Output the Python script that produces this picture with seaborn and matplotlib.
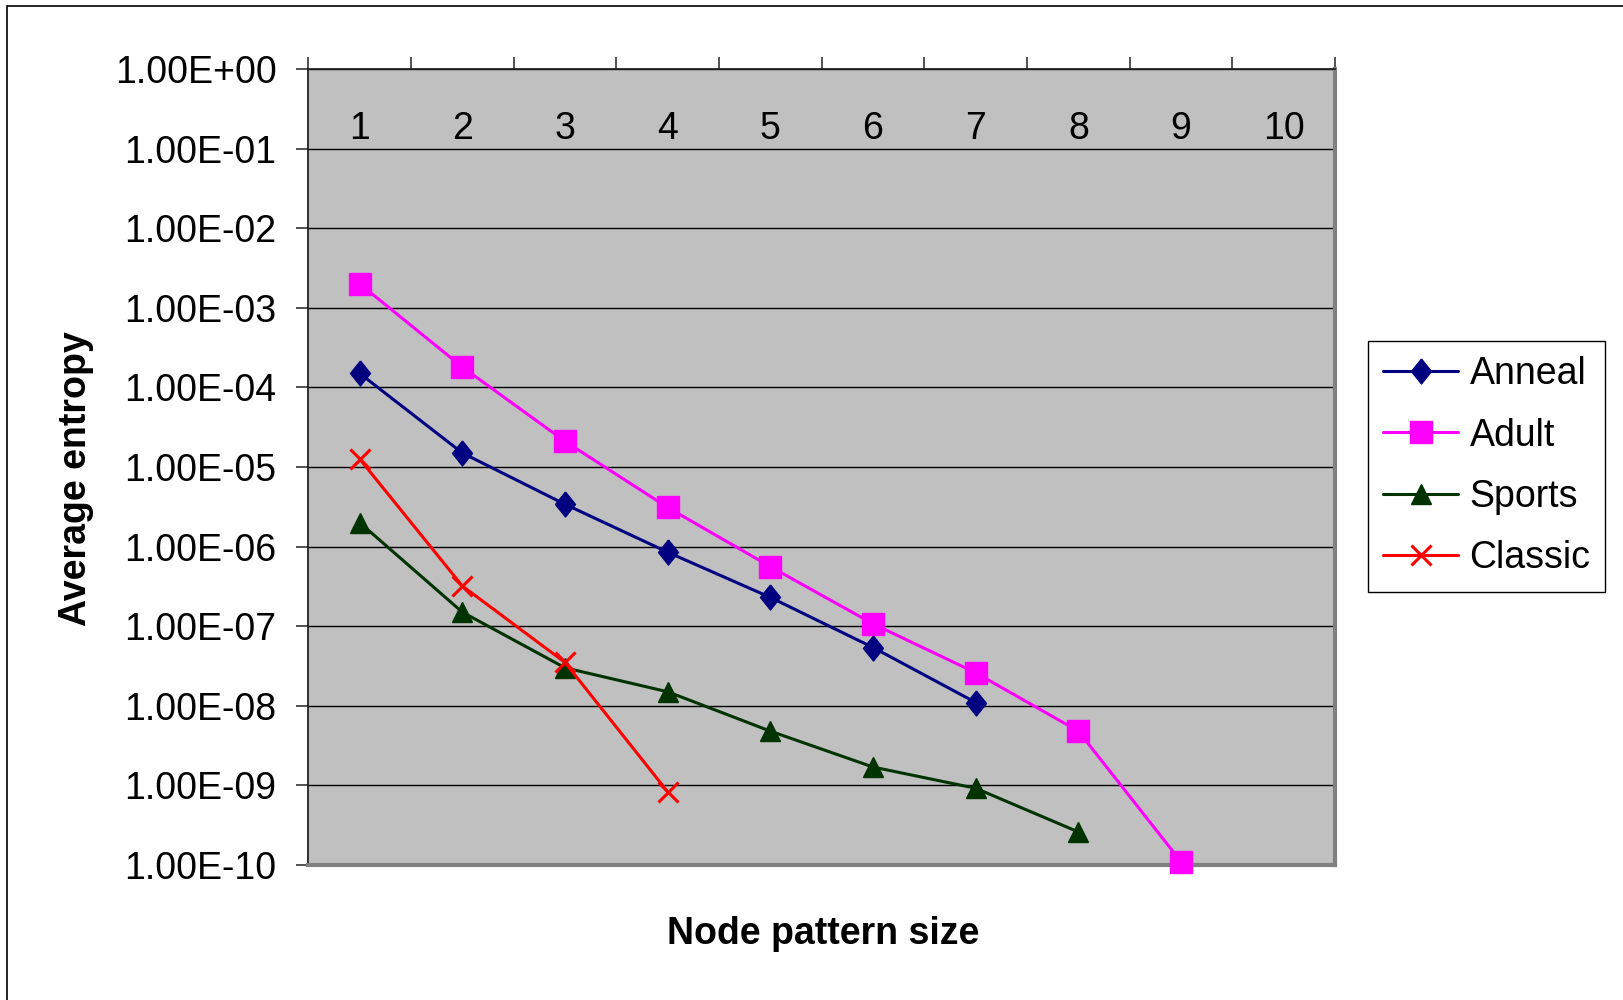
import matplotlib
matplotlib.use("Agg")
import matplotlib.pyplot as plt
import matplotlib.ticker as mticker
from matplotlib.patches import Rectangle
import pandas as pd
import seaborn as sns

# Data (log scale values)
sizes = [1, 2, 3, 4, 5, 6, 7, 8, 9, 10]
size_labels = ["1", "2", "3", "4", "5", "6", "7", "8", "9", "10"]

anneal = [1.5e-4, 1.5e-5, 3.4e-6, 8.5e-7, 2.3e-7, 5.4e-8, 1.1e-8]
adult = [2.0e-3, 1.8e-4, 2.1e-5, 3.1e-6, 5.6e-7, 1.07e-7, 2.6e-8, 4.8e-9, 1.1e-10]
sports = [2.0e-6, 1.5e-7, 3.0e-8, 1.5e-8, 4.8e-9, 1.7e-9, 9.2e-10, 2.6e-10]
classic = [1.26e-5, 3.2e-7, 3.5e-8, 8.3e-10]

ytick_vals = [1e0, 1e-1, 1e-2, 1e-3, 1e-4, 1e-5, 1e-6, 1e-7, 1e-8, 1e-9, 1e-10]
ytick_labels = ["1.00E+00", "1.00E-01", "1.00E-02", "1.00E-03", "1.00E-04", "1.00E-05",
                "1.00E-06", "1.00E-07", "1.00E-08", "1.00E-09", "1.00E-10"]

sns.set_style("white")
plt.rcParams['font.family'] = ['Liberation Sans', 'DejaVu Sans']
plt.rcParams['text.color'] = 'black'
plt.rcParams['axes.labelcolor'] = 'black'
plt.rcParams['xtick.color'] = 'black'
plt.rcParams['ytick.color'] = 'black'

fig = plt.figure(figsize=(16.23, 10), dpi=100)
ax = fig.add_axes([0.19, 0.135, 0.6326, 0.796])
ax.set_facecolor("#C0C0C0")

# tall diamond like the Excel marker
diamond = [(0, 1), (0.8, 0), (0, -1), (-0.8, 0), (0, 1)]

series = [
    ("Anneal", anneal, "#000080", diamond, 18, 1.0),
    ("Adult", adult, "#FF00FF", "s", 16, 1.0),
    ("Sports", sports, "#003300", "^", 15, 1.0),
    ("Classic", classic, "#FF0000", "x", 15, 2.2),
]

for name, vals, color, marker, ms, mew in series:
    df = pd.DataFrame({"size": sizes[:len(vals)], "entropy": vals})
    sns.lineplot(data=df, x="size", y="entropy", ax=ax, color=color, linewidth=2.2,
                 marker=marker, markersize=ms, markeredgecolor=color,
                 markeredgewidth=mew, label=name, clip_on=False, zorder=3)

ax.set_yscale("log")
ax.set_ylim(1e-10, 1)
ax.set_xlim(0.5, 10.5)
ax.set_yticks(ytick_vals)
ax.set_yticklabels(ytick_labels)
ax.yaxis.set_minor_locator(mticker.NullLocator())
ax.yaxis.grid(True, which="major", color="black", linewidth=1.0)
ax.set_axisbelow(True)

# category labels sit at the top, inside the plot area
ax.xaxis.set_ticks_position("top")
ax.set_xticks(sizes)
ax.set_xticklabels(size_labels)
ax.set_xticks([s + 0.5 for s in range(0, 11)], minor=True)
ax.tick_params(axis="x", which="major", length=0, labelsize=27, pad=-56,
               top=True, bottom=False, labeltop=True, labelbottom=False)
ax.tick_params(axis="x", which="minor", length=9, width=1.2, direction="out",
               top=True, bottom=False, color="#333333")
ax.tick_params(axis="y", which="major", length=9, width=1.2, direction="out",
               labelsize=27, pad=14, color="#333333", left=True)

for side in ["left", "top"]:
    ax.spines[side].set_color("#222222")
    ax.spines[side].set_linewidth(1.3)
for side in ["right", "bottom"]:
    ax.spines[side].set_color("#808080")
    ax.spines[side].set_linewidth(3)

ax.set_xlabel("Node pattern size", fontsize=27, fontweight="bold")
ax.xaxis.set_label_position("bottom")
ax.xaxis.set_label_coords(0.501, -0.064)
ax.set_ylabel("Average entropy", fontsize=27, fontweight="bold")
ax.yaxis.set_label_coords(-0.209, 0.485)

leg = ax.legend(loc="upper left", bbox_to_anchor=(0.843, 0.659), bbox_transform=fig.transFigure,
                fontsize=27, frameon=True, fancybox=False, shadow=False, framealpha=1,
                edgecolor="black", handlelength=2.0, handletextpad=0.3,
                borderpad=0.4, labelspacing=0.68, borderaxespad=0)
leg.get_frame().set_linewidth(1.0)

# outer chart frame
fig.patches.append(Rectangle((0.0043, -0.02), 1.1, 1.014, transform=fig.transFigure,
                             fill=False, edgecolor="black", linewidth=1.2))

fig.savefig("out.png", dpi=100)
